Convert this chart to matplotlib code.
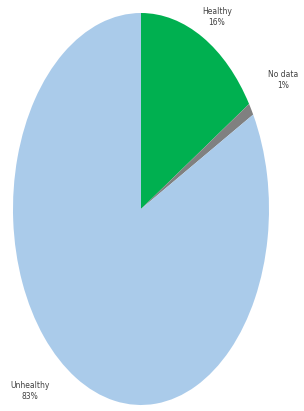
import matplotlib
matplotlib.use("Agg")
import matplotlib.pyplot as plt

categories = ["Healthy", "No data", "Unhealthy"]
values = [16, 1, 83]
colors = ["#00B050", "#808080", "#AACBEA"]

fig = plt.figure(figsize=(3.04, 4.11), dpi=100)
ax = fig.add_axes([13/304, 6/411, 256/304, 392/411])
ax.pie(values, colors=colors, startangle=90, counterclock=False,
       wedgeprops=dict(linewidth=0))
ax.set_aspect("auto")
ax.set_xlim(-1, 1)
ax.set_ylim(-1, 1)
ax.axis("off")

label_pos = [(217/304, 1 - 17/411), (283/304, 1 - 80/411), (30/304, 1 - 391/411)]
for cat, v, (x, y) in zip(categories, values, label_pos):
    fig.text(x, y, f"{cat}\n{v}%", ha="center", va="center", fontsize=5.5,
             color="#404040", family="DejaVu Sans", linespacing=1.3)

fig.savefig("out.png", dpi=100)
